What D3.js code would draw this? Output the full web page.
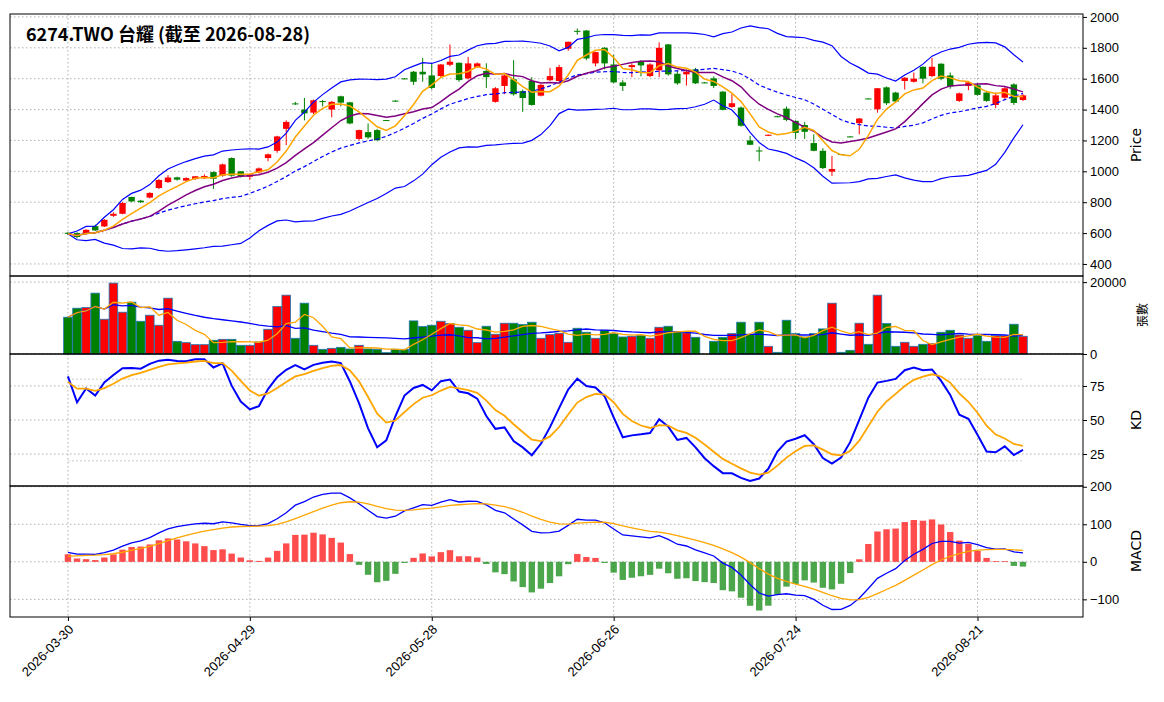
<!DOCTYPE html>
<html><head><meta charset="utf-8">
<script src="https://cdn.jsdelivr.net/npm/d3@7/dist/d3.min.js"></script>
<style>body{margin:0;background:#fff}svg{font-family:"DejaVu Sans",sans-serif}</style>
</head><body><svg id="c" width="1164" height="702"></svg>
<script>
const title = "6274.TWO 台耀 (截至 2026-08-28)";
const tickIdx = [0,20,40,60,80,100];
const tickLabels = ["2026-03-30","2026-04-29","2026-05-28","2026-06-26","2026-07-24","2026-08-21"];
const open = [602,600,596,645,643,712,725,834,810,830,892,930,961,940,950,955,995,972,1086,1000,965,993,1086,1133,1275,1440,1400,1380,1455,1400,1486,1447,1210,1254,1267,1332,1458,1602,1645,1645,1621,1617,1690,1703,1602,1675,1650,1450,1553,1596,1520,1585,1490,1590,1585,1794,1910,1912,1699,1800,1692,1576,1675,1714,1617,1654,1822,1632,1628,1660,1576,1602,1516,1417,1413,1200,1135,1230,1357,1406,1327,1300,1183,1133,998,1112,1226,1312,1472,1402,1544,1510,1585,1580,1677,1617,1697,1621,1456,1553,1557,1510,1430,1477,1563,1462];
const high = [605,605,625,655,690,735,800,836,815,865,950,975,965,962,970,980,1000,1050,1090,1002,985,1025,1115,1230,1330,1450,1475,1465,1462,1455,1490,1450,1270,1310,1275,1333,1460,1604,1650,1735,1700,1695,1822,1705,1740,1705,1700,1545,1625,1720,1530,1610,1565,1670,1690,1840,1925,1915,1775,1805,1755,1590,1700,1720,1700,1835,1825,1650,1660,1670,1578,1615,1520,1500,1420,1230,1160,1238,1360,1420,1330,1320,1240,1150,1100,1113,1228,1345,1474,1540,1550,1515,1610,1640,1680,1735,1700,1640,1510,1585,1570,1520,1510,1545,1570,1500];
const low = [590,565,590,615,640,705,722,800,795,825,885,925,940,935,945,950,886,965,965,960,945,985,1065,1120,1170,1430,1330,1370,1420,1350,1420,1305,1200,1210,1195,1327,1450,1596,1560,1580,1530,1610,1680,1580,1595,1670,1540,1445,1500,1490,1385,1425,1485,1585,1580,1780,1885,1720,1680,1660,1570,1520,1610,1615,1610,1610,1620,1560,1555,1565,1570,1540,1395,1410,1290,1170,1065,1228,1350,1325,1210,1210,1130,1015,970,1108,1222,1240,1468,1380,1430,1445,1530,1575,1570,1610,1590,1535,1450,1525,1490,1450,1410,1470,1430,1455];
const close = [595,575,621,617,686,725,795,805,800,860,944,960,946,956,968,970,952,1045,972,968,980,1019,1110,1226,1320,1435,1375,1460,1450,1450,1445,1310,1267,1220,1202,1328,1455,1598,1580,1628,1540,1692,1710,1591,1699,1699,1610,1538,1621,1499,1475,1430,1560,1617,1675,1839,1905,1731,1772,1699,1576,1553,1688,1686,1692,1800,1628,1570,1645,1570,1572,1553,1398,1441,1295,1172,1130,1237,1352,1333,1249,1256,1133,1021,1015,1110,1224,1342,1470,1538,1441,1452,1606,1600,1600,1677,1600,1550,1505,1576,1495,1456,1492,1538,1443,1492];
const volume = [10230,12740,12930,16930,9670,19720,11630,14420,9110,10790,8000,15530,3530,3160,2600,2600,3810,4090,4090,2420,2420,3350,6880,13200,16370,4370,14140,2420,1300,1580,1860,1400,2420,1400,1300,370,1300,1300,9210,7630,8000,9110,8460,7440,6600,3160,7720,5490,8560,8560,8180,8840,4370,5390,5770,3260,7160,6050,4370,6600,5670,4740,4930,5120,4370,7440,7720,6230,5860,4650,0,3530,4650,5670,8840,5490,8840,2140,470,9390,5670,4740,5670,6980,14140,470,1020,8560,2700,16370,8460,2140,3260,2140,2700,2880,6050,6600,5300,4370,5120,3530,5120,5120,8280,4930];
// indicator seeds
const kdSeed = [82, 78];
const macdSeed = {dif: 25, dea: 15};

const n = close.length, idx = d3.range(n);
function sma(a, w){return a.map((_,i)=>d3.mean(a.slice(Math.max(0,i-w+1), i+1)));}
function sd(a, w){return a.map((_,i)=>d3.deviation(a.slice(Math.max(0,i-w+1), i+1))||0);}
const ma5 = sma(close,5), ma10 = sma(close,10), ma20 = sma(close,20), s20 = sd(close,20);
const up = ma20.map((m,i)=>m+2*s20[i]), lo = ma20.map((m,i)=>m-2*s20[i]);
const vma5 = sma(volume,5), vma20 = sma(volume,20);
const K=[],D=[]; let k=kdSeed[0], dd=kdSeed[1];
for(let i=0;i<n;i++){const s=Math.max(0,i-8);const hh=d3.max(high.slice(s,i+1)),ll=d3.min(low.slice(s,i+1));
 const rsv= hh===ll?50:(close[i]-ll)/(hh-ll)*100; if(i>0){k=k*2/3+rsv/3; dd=dd*2/3+k/3;} K.push(k);D.push(dd);}
const DIF=[],DEA=[],OSC=[]; let e12=close[0]+macdSeed.dif/2, e26=close[0]-macdSeed.dif/2, dea=macdSeed.dea;
for(let i=0;i<n;i++){ if(i>0){e12=e12+(close[i]-e12)*2/13; e26=e26+(close[i]-e26)*2/27; const df=e12-e26; dea=dea+(df-dea)*2/10;}
 const df=e12-e26; DIF.push(df); DEA.push(dea); OSC.push(2*(df-dea));}

const svg = d3.select("#c");
const L=10, R=1083;
const x = d3.scaleLinear().domain([-6.37,111.6]).range([L,R]);
const panels = [{t:14,b:276},{t:276,b:354},{t:354,b:486},{t:486,b:617}];
const yP = d3.scaleLinear().domain([322,2019]).range([276,14]);
const yV = d3.scaleLinear().domain([0,21700]).range([354,276]);
const yK = d3.scaleLinear().domain([1.5,98.5]).range([486,354]);
const yM = d3.scaleLinear().domain([-147,202]).range([617,486]);
const RED="#ff0000", GRN="#008000";
function grid(y, ticks, p){
 const g=svg.append("g");
 ticks.forEach(t=>g.append("line").attr("x1",L).attr("x2",R).attr("y1",y(t)).attr("y2",y(t)).attr("stroke","#b0b0b0").attr("stroke-dasharray","1.5,2.5"));
 tickIdx.forEach(t=>g.append("line").attr("x1",x(t)).attr("x2",x(t)).attr("y1",p.t).attr("y2",p.b).attr("stroke","#b0b0b0").attr("stroke-dasharray","1.5,2.5"));
 const ax=svg.append("g").attr("transform",`translate(${R},0)`).call(d3.axisRight(y).tickValues(ticks).tickSize(4).tickPadding(3).tickFormat(d3.format("d")));
 ax.select(".domain").remove(); ax.selectAll("text").attr("font-size",13).attr("fill","#000");
}
grid(yP,[400,600,800,1000,1200,1400,1600,1800,2000],panels[0]);
grid(yV,[0,20000],panels[1]);
grid(yK,[25,50,75],panels[2]);
grid(yM,[-100,0,100,200],panels[3]);
[20,80].forEach(v=>svg.append("line").attr("x1",x(0)).attr("x2",x(n-1)).attr("y1",yK(v)).attr("y2",yK(v)).attr("stroke","#ccc").attr("stroke-dasharray","2,2"));

const line=(y,a)=>d3.line().x((_,i)=>x(i)).y(v=>y(v))(a);
const cg=svg.append("g");
idx.forEach(i=>{const c=close[i]>=open[i]?RED:GRN;
 cg.append("line").attr("x1",x(i)).attr("x2",x(i)).attr("y1",yP(high[i])).attr("y2",yP(low[i])).attr("stroke",c).attr("stroke-width",1);
 const t=yP(Math.max(open[i],close[i])), b=yP(Math.min(open[i],close[i]));
 cg.append("rect").attr("x",x(i)-3.2).attr("width",6.4).attr("y",t).attr("height",Math.max(b-t,1)).attr("fill",c);});
svg.append("path").attr("d",line(yP,up)).attr("fill","none").attr("stroke","#0000ff").attr("stroke-width",1.2);
svg.append("path").attr("d",line(yP,lo)).attr("fill","none").attr("stroke","#0000ff").attr("stroke-width",1.2);
svg.append("path").attr("d",line(yP,ma20)).attr("fill","none").attr("stroke","#0000ff").attr("stroke-width",1.2).attr("stroke-dasharray","4,2.5");
svg.append("path").attr("d",line(yP,ma10)).attr("fill","none").attr("stroke","#800080").attr("stroke-width",1.5);
svg.append("path").attr("d",line(yP,ma5)).attr("fill","none").attr("stroke","#ffa500").attr("stroke-width",1.5);
idx.forEach(i=>{const c=close[i]>=open[i]?RED:GRN;
 svg.append("rect").attr("x",x(i)-4.3).attr("width",8.6).attr("y",yV(volume[i])).attr("height",yV(0)-yV(volume[i])).attr("fill",c).attr("stroke","#1f77b4").attr("stroke-width",0.8);});
svg.append("path").attr("d",line(yV,vma20)).attr("fill","none").attr("stroke","#0000ff").attr("stroke-width",1.3);
svg.append("path").attr("d",line(yV,vma5)).attr("fill","none").attr("stroke","#ffa500").attr("stroke-width",1.3);
svg.append("path").attr("d",line(yK,K)).attr("fill","none").attr("stroke","#0000ff").attr("stroke-width",2);
svg.append("path").attr("d",line(yK,D)).attr("fill","none").attr("stroke","#ffa500").attr("stroke-width",1.8);
idx.forEach(i=>{const v=OSC[i];
 svg.append("rect").attr("x",x(i)-3.2).attr("width",6.4).attr("y",yM(Math.max(v,0))).attr("height",Math.abs(yM(v)-yM(0))).attr("fill",v>=0?"#ff0000":"#008000").attr("opacity",0.7);});
svg.append("path").attr("d",line(yM,DIF)).attr("fill","none").attr("stroke","#0000ff").attr("stroke-width",1.3);
svg.append("path").attr("d",line(yM,DEA)).attr("fill","none").attr("stroke","#ffa500").attr("stroke-width",1.3);
panels.forEach(p=>svg.append("rect").attr("x",L).attr("y",p.t).attr("width",R-L).attr("height",p.b-p.t).attr("fill","none").attr("stroke","#000").attr("stroke-width",1));
const xa=svg.append("g").attr("transform","translate(0,617)").call(d3.axisBottom(x).tickValues(tickIdx).tickSize(4).tickFormat((d,i)=>tickLabels[i]));
xa.select(".domain").remove();
xa.selectAll("text").attr("font-size",13).attr("fill","#000").attr("text-anchor","end").attr("transform","rotate(-45)").attr("dx","-0.4em").attr("dy","0.5em");
const yl=(t,cx,cy,fs,ff)=>svg.append("text").attr("transform",`translate(${cx},${cy}) rotate(-90)`).attr("text-anchor","middle").attr("font-size",fs).attr("font-family",ff||null).text(t);
yl("Price",1141,145,14); yl("張數",1147,315,12,"Noto Sans CJK TC"); yl("KD",1141,420,14); yl("MACD",1141,551,14);
svg.append("text").attr("x",26).attr("y",41).attr("font-size",18).attr("font-weight","bold").attr("font-family","Noto Sans CJK TC").text(title);
</script></body></html>
